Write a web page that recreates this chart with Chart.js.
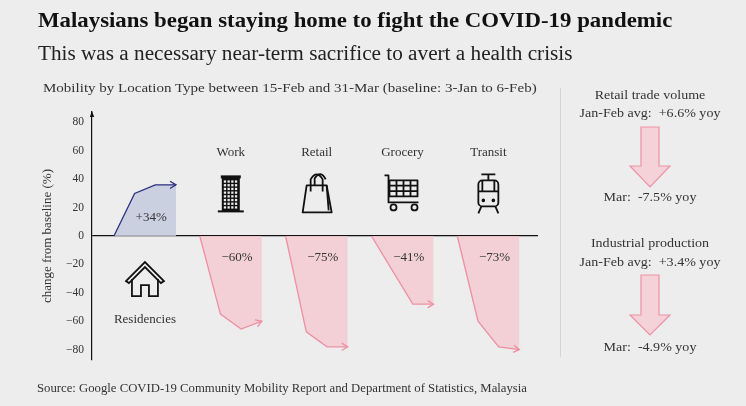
<!DOCTYPE html>
<html>
<head>
<meta charset="utf-8">
<script src="https://cdn.jsdelivr.net/npm/chart.js@4.4.0/dist/chart.umd.min.js"></script>
<style>
  body { margin: 0; background: #ededed; font-family: "Liberation Serif", serif; color: #222; }
  #wrap { position: relative; width: 746px; height: 406px; overflow: hidden; }
  #box { position: absolute; left: 0; top: 0; width: 746px; height: 406px; }
  .t { position: absolute; white-space: nowrap; transform-origin: left center; }
  .c { position: absolute; left: 560px; width: 180px; text-align: center; font-size: 13px; color: #333;
       transform: scaleX(1.08); transform-origin: center center; }
</style>
</head>
<body>
<div id="wrap">
  <div id="box"><canvas id="myChart"></canvas></div>

  <div class="t" style="left:38px;top:8px;font-size:21.5px;font-weight:bold;color:#111;transform:scaleX(1.062)">Malaysians began staying home to fight the COVID-19 pandemic</div>
  <div class="t" style="left:38px;top:42px;font-size:20.5px;color:#222;transform:scaleX(1.035)">This was a necessary near-term sacrifice to avert a health crisis</div>
  <div class="t" style="left:43px;top:80px;font-size:13px;color:#333;transform:scaleX(1.155)">Mobility by Location Type between 15-Feb and 31-Mar (baseline: 3-Jan to 6-Feb)</div>

  <div style="position:absolute;left:560px;top:88px;width:1px;height:269px;background:#d4d4d4"></div>
  <div class="c" style="top:87px">Retail trade volume</div>
  <div class="c" style="top:105px">Jan-Feb avg:&nbsp; +6.6% yoy</div>
  <div class="c" style="top:189px">Mar:&nbsp; -7.5% yoy</div>
  <div class="c" style="top:235px">Industrial production</div>
  <div class="c" style="top:254px">Jan-Feb avg:&nbsp; +3.4% yoy</div>
  <div class="c" style="top:339px">Mar:&nbsp; -4.9% yoy</div>
  <svg style="position:absolute;left:0;top:0" width="746" height="406">
    <polygon points="641,127 659,127 659,166 670,166 650,187 630,166 641,166" fill="#f4d2d7" stroke="#ee92a3" stroke-width="1.2"/>
    <polygon points="641,275 659,275 659,315 670,315 650,335 630,315 641,315" fill="#f4d2d7" stroke="#ee92a3" stroke-width="1.2"/>
  </svg>

  <div class="t" style="left:37px;top:382px;font-size:11.5px;color:#333;transform:scaleX(1.106)">Source: Google COVID-19 Community Mobility Report and Department of Statistics, Malaysia</div>
</div>

<script>
// location types and their change figures
const names = ['Residencies', 'Work', 'Retail', 'Grocery', 'Transit'];
const changeLabels = ['+34%', '\u221260%', '\u221275%', '\u221241%', '\u221273%'];

// path of each location (change from baseline, %)
const residenciesValues = [0, 30, 36, 36];
const workValues = [0, -55, -65.5, -60];
const retailValues = [0, -67.5, -78, -78];
const groceryValues = [0, -24, -48, -48];
const transitValues = [0, -60, -78, -80];

const yTicks = [-80, -60, -40, -20, 0, 20, 40, 60, 80];

const series = [residenciesValues, workValues, retailValues, groceryValues, transitValues];
const GAP = 4.15; // x units between start of one group and the next

const navy = '#2d2f80';
const pink = '#ee8fa2';
const ink = '#333';

function groupX(i, j) { return i * GAP + j; }

// ---- little icons ----
function drawBuilding(ctx, cx, cy) {
  ctx.fillStyle = '#111';
  ctx.fillRect(cx - 9, cy - 17, 18, 35);
  ctx.fillRect(cx - 13, cy + 17, 26, 2);
  ctx.fillStyle = '#ededed';
  for (let r = 0; r < 8; r++) {
    for (let c = 0; c < 4; c++) {
      ctx.fillRect(cx - 7 + c * 3.7, cy - 13 + r * 3.7, 2.3, 2.3);
    }
  }
  ctx.fillStyle = '#111';
  ctx.fillRect(cx - 10, cy - 18, 20, 3);
}

function drawBag(ctx, cx, cy) {
  ctx.strokeStyle = '#111';
  ctx.lineWidth = 1.8;
  ctx.lineJoin = 'round';
  ctx.beginPath();
  ctx.moveTo(cx - 10, cy - 8);
  ctx.lineTo(cx + 10, cy - 8);
  ctx.lineTo(cx + 15, cy + 19);
  ctx.lineTo(cx - 14, cy + 19);
  ctx.closePath();
  ctx.stroke();
  ctx.beginPath();
  ctx.moveTo(cx + 10, cy - 8);
  ctx.lineTo(cx + 12, cy + 17);
  ctx.stroke();
  ctx.beginPath();
  ctx.moveTo(cx - 6, cy - 2);
  ctx.lineTo(cx - 6, cy - 14);
  ctx.quadraticCurveTo(cx, cy - 24, cx + 6, cy - 14);
  ctx.lineTo(cx + 6, cy - 2);
  ctx.stroke();
  ctx.beginPath();
  ctx.moveTo(cx - 2, cy - 8);
  ctx.lineTo(cx - 2, cy - 15);
  ctx.quadraticCurveTo(cx + 4, cy - 24, cx + 9, cy - 14);
  ctx.stroke();
}

function drawCart(ctx, cx, cy) {
  ctx.strokeStyle = '#111';
  ctx.lineWidth = 1.8;
  ctx.beginPath();
  ctx.moveTo(cx - 18, cy - 18);
  ctx.lineTo(cx - 14, cy - 18);
  ctx.lineTo(cx - 14, cy + 9);
  ctx.lineTo(cx + 16, cy + 9);
  ctx.stroke();
  ctx.strokeRect(cx - 13, cy - 13, 28, 16);
  ctx.beginPath();
  for (let k = 1; k < 4; k++) {
    ctx.moveTo(cx - 13 + k * 7, cy - 13);
    ctx.lineTo(cx - 13 + k * 7, cy + 3);
  }
  ctx.moveTo(cx - 13, cy - 7.7);
  ctx.lineTo(cx + 15, cy - 7.7);
  ctx.moveTo(cx - 13, cy - 2.3);
  ctx.lineTo(cx + 15, cy - 2.3);
  ctx.stroke();
  ctx.beginPath();
  ctx.arc(cx - 9, cy + 14, 3, 0, Math.PI * 2);
  ctx.moveTo(cx + 15, cy + 14);
  ctx.arc(cx + 12, cy + 14, 3, 0, Math.PI * 2);
  ctx.stroke();
}

function drawTrain(ctx, cx, cy) {
  ctx.strokeStyle = '#111';
  ctx.fillStyle = '#111';
  ctx.lineWidth = 1.8;
  ctx.beginPath();
  ctx.moveTo(cx - 7, cy - 19);
  ctx.lineTo(cx + 7, cy - 19);
  ctx.moveTo(cx, cy - 19);
  ctx.lineTo(cx, cy - 13);
  ctx.stroke();
  ctx.beginPath();
  ctx.roundRect(cx - 10, cy - 13, 20, 26, 4);
  ctx.stroke();
  ctx.beginPath();
  ctx.moveTo(cx - 10, cy - 2);
  ctx.lineTo(cx + 10, cy - 2);
  ctx.moveTo(cx - 6, cy - 13);
  ctx.lineTo(cx - 6, cy - 2);
  ctx.moveTo(cx + 6, cy - 13);
  ctx.lineTo(cx + 6, cy - 2);
  ctx.stroke();
  ctx.beginPath();
  ctx.arc(cx - 5, cy + 7, 1.8, 0, Math.PI * 2);
  ctx.arc(cx + 5, cy + 7, 1.8, 0, Math.PI * 2);
  ctx.fill();
  ctx.beginPath();
  ctx.moveTo(cx - 7, cy + 13);
  ctx.lineTo(cx - 10, cy + 20);
  ctx.moveTo(cx + 7, cy + 13);
  ctx.lineTo(cx + 10, cy + 20);
  ctx.stroke();
}

function drawHouse(ctx, cx, cy) {
  ctx.strokeStyle = '#111';
  ctx.lineWidth = 1.8;
  ctx.lineJoin = 'miter';
  ctx.beginPath();
  ctx.moveTo(cx - 19, cy + 1);
  ctx.lineTo(cx, cy - 18);
  ctx.lineTo(cx + 19, cy + 1);
  ctx.lineTo(cx + 16, cy + 3);
  ctx.lineTo(cx, cy - 13);
  ctx.lineTo(cx - 16, cy + 3);
  ctx.closePath();
  ctx.stroke();
  ctx.beginPath();
  ctx.moveTo(cx - 13, cy - 1);
  ctx.lineTo(cx - 13, cy + 16);
  ctx.lineTo(cx - 4, cy + 16);
  ctx.lineTo(cx - 4, cy + 5);
  ctx.lineTo(cx + 4, cy + 5);
  ctx.lineTo(cx + 4, cy + 16);
  ctx.lineTo(cx + 13, cy + 16);
  ctx.lineTo(cx + 13, cy - 1);
  ctx.stroke();
}

const icons = [drawHouse, drawBuilding, drawBag, drawCart, drawTrain];

const decorPlugin = {
  id: 'decor',
  afterDatasetsDraw(chart) {
    const ctx = chart.ctx;
    const xs = chart.scales.x;
    const ys = chart.scales.y;
    ctx.save();

    // arrow heads at the end of each path
    chart.data.datasets.forEach((ds, i) => {
      const pts = chart.getDatasetMeta(i).data;
      const a = pts[pts.length - 2], b = pts[pts.length - 1];
      const ang = Math.atan2(b.y - a.y, b.x - a.x);
      ctx.strokeStyle = ds.borderColor;
      ctx.lineWidth = 1.3;
      ctx.beginPath();
      ctx.moveTo(b.x - 7 * Math.cos(ang - 0.55), b.y - 7 * Math.sin(ang - 0.55));
      ctx.lineTo(b.x, b.y);
      ctx.lineTo(b.x - 7 * Math.cos(ang + 0.55), b.y - 7 * Math.sin(ang + 0.55));
      ctx.stroke();
    });

    // names, change labels, icons
    ctx.textAlign = 'center';
    ctx.textBaseline = 'middle';
    names.forEach((name, i) => {
      const cx = xs.getPixelForValue(groupX(i, 1.5));
      const up = i === 0;
      ctx.fillStyle = ink;
      ctx.font = '13px "Liberation Serif"';
      ctx.fillText(name, cx, ys.getPixelForValue(up ? -59 : 58.5));
      ctx.fillText(changeLabels[i], xs.getPixelForValue(groupX(i, 1.8)), ys.getPixelForValue(up ? 13 : -15.5));
      icons[i](ctx, cx, ys.getPixelForValue(up ? -31 : 30));
    });

    // arrow tip on the y axis
    const ax = xs.left;
    ctx.fillStyle = '#111';
    ctx.beginPath();
    ctx.moveTo(ax, ys.top - 1);
    ctx.lineTo(ax - 2.2, ys.top + 5);
    ctx.lineTo(ax + 2.2, ys.top + 5);
    ctx.closePath();
    ctx.fill();
    ctx.restore();
  }
};

new Chart(document.getElementById('myChart'), {
  type: 'line',
  data: {
    datasets: series.map((vals, i) => ({
      label: names[i],
      data: vals.map((v, j) => ({ x: groupX(i, j), y: v })),
      fill: 'origin',
      borderColor: i === 0 ? navy : pink,
      backgroundColor: i === 0 ? 'rgba(196,202,222,0.85)' : 'rgba(243,200,208,0.8)',
      borderWidth: 1.3,
      pointRadius: 0,
      tension: 0
    }))
  },
  plugins: [decorPlugin],
  options: {
    responsive: true,
    maintainAspectRatio: false,
    animation: false,
    layout: { padding: { left: 30, right: 208, top: 112, bottom: 46 } },
    plugins: { legend: { display: false }, tooltip: { enabled: false } },
    scales: {
      x: { type: 'linear', min: -1.06, max: 20.5, display: false },
      y: {
        min: -87.3,
        max: 87.3,
        afterFit(scale) { scale.width = 62; },
        afterBuildTicks(scale) { scale.ticks = yTicks.map(v => ({ value: v })); },
        border: { display: true, color: '#111', width: 1.2 },
        grid: {
          drawTicks: false,
          color: c => (c.tick && c.tick.value === 0 ? '#111' : 'rgba(0,0,0,0)'),
          lineWidth: 1.2
        },
        ticks: {
          padding: 8,
          color: ink,
          font: { family: 'Liberation Serif', size: 11.5 },
          callback: v => (v < 0 ? '\u2212' + Math.abs(v) : String(v))
        },
        title: {
          display: true,
          text: 'change from baseline (%)',
          color: ink,
          font: { family: 'Liberation Serif', size: 13 },
          padding: { top: 10, bottom: 0 }
        }
      }
    }
  }
});
</script>
</body>
</html>
